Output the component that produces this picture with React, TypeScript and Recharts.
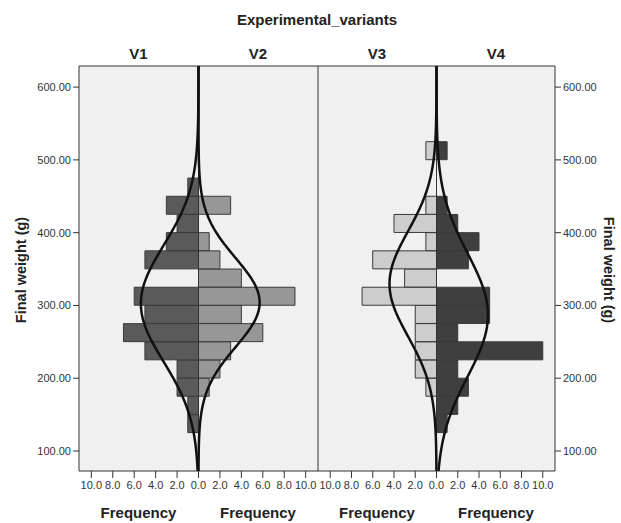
import React from 'react';
import { ComposedChart, Bar, Line, XAxis, YAxis, ReferenceArea, ReferenceLine } from 'recharts';

// Bin midpoints (bin width 25 g), from 125-150 up to 500-525
const binMids = [137.5, 162.5, 187.5, 212.5, 237.5, 262.5, 287.5, 312.5, 337.5, 362.5, 387.5, 412.5, 437.5, 462.5, 487.5, 512.5];
const v1Counts = [1, 1, 2, 2, 5, 7, 5, 6, 0, 5, 3, 2, 3, 1, 0, 0];
const v2Counts = [0, 0, 1, 2, 3, 6, 4, 9, 4, 2, 1, 0, 3, 0, 0, 0];
const v3Counts = [0, 0, 1, 2, 2, 2, 2, 7, 3, 6, 1, 4, 1, 0, 0, 1];
const v4Counts = [1, 2, 3, 2, 10, 2, 5, 5, 0, 3, 4, 2, 1, 0, 0, 1];
const binWidth = 25;

// Normal-curve parameters per variant (mean, sd, n)
const v1Fit = { mean: 302.6, sd: 79.8, n: 43 };
const v2Fit = { mean: 304.0, sd: 61.2, n: 35 };
const v3Fit = { mean: 329.7, sd: 72.2, n: 32 };
const v4Fit = { mean: 286.9, sd: 84.5, n: 41 };

const yTicks = [100, 200, 300, 400, 500, 600];
const xTicks = [-10, -8, -6, -4, -2, 0, 2, 4, 6, 8, 10];
const yDomain: [number, number] = [72.5, 629];
const xDomain: [number, number] = [-11.15, 11.15];
const variantLabels = ['V1', 'V2', 'V3', 'V4'];

const FONT = '"Liberation Sans", Arial, Helvetica, sans-serif';

const buildBars = (left: number[], right: number[]) =>
  binMids.map((w, i) => ({ w, left: -left[i], right: right[i] }));

const curveWeights: number[] = [];
for (let i = 0; i <= 140; i++) curveWeights.push(yDomain[0] + ((yDomain[1] - yDomain[0]) * i) / 140);

const buildCurve = (fit: { mean: number; sd: number; n: number }, sign: number) =>
  curveWeights.map((w) => {
    const z = (w - fit.mean) / fit.sd;
    const d = (fit.n * binWidth) / (fit.sd * Math.sqrt(2 * Math.PI)) * Math.exp(-0.5 * z * z);
    return { w, x: sign * d };
  });

const pane1Bars = buildBars(v1Counts, v2Counts);
const pane2Bars = buildBars(v3Counts, v4Counts);
const curve1 = buildCurve(v1Fit, -1);
const curve2 = buildCurve(v2Fit, 1);
const curve3 = buildCurve(v3Fit, -1);
const curve4 = buildCurve(v4Fit, 1);

const tickStyle = { fontSize: 11, fill: '#333', fontFamily: FONT };

type PaneProps = {
  data: { w: number; left: number; right: number }[];
  leftCurve: { w: number; x: number }[];
  rightCurve: { w: number; x: number }[];
  leftColor: string;
  rightColor: string;
  side: 'left' | 'right';
  width: number;
};

function Pane({ data, leftCurve, rightCurve, leftColor, rightColor, side, width }: PaneProps) {
  return (
    <ComposedChart
      width={width}
      height={523}
      data={data}
      layout="vertical"
      stackOffset="sign"
      barCategoryGap={0}
      barGap={0}
      margin={{ top: 66, right: 0, bottom: 0, left: 0 }}
    >
      <XAxis
        type="number"
        domain={xDomain}
        ticks={xTicks}
        allowDataOverflow
        height={52}
        axisLine={false}
        tickLine={{ stroke: '#333' }}
        tickSize={7}
        tickMargin={3}
        tick={tickStyle}
        tickFormatter={(v: number) => Math.abs(v).toFixed(1)}
        interval={0}
      />
      <YAxis
        yAxisId="bins"
        type="number"
        dataKey="w"
        orientation={side}
        reversed
        width={side === 'left' ? 79 : 66}
        domain={yDomain}
        ticks={yTicks}
        allowDataOverflow
        axisLine={false}
        tickLine={{ stroke: '#333' }}
        tick={tickStyle}
        tickFormatter={(v: number) => v.toFixed(2)}
        interval={0}
      />
      <YAxis yAxisId="curve" type="number" dataKey="w" hide reversed domain={yDomain} allowDataOverflow />
      <ReferenceArea
        yAxisId="bins"
        x1={xDomain[0]}
        x2={xDomain[1]}
        y1={yDomain[0]}
        y2={yDomain[1]}
        fill="#f0f0f0"
        fillOpacity={1}
        stroke="#333"
        strokeWidth={1}
        ifOverflow="visible"
      />
      <Bar yAxisId="bins" dataKey="left" stackId="s" fill={leftColor} stroke="#3a3a3a" strokeWidth={1} isAnimationActive={false} />
      <Bar yAxisId="bins" dataKey="right" stackId="s" fill={rightColor} stroke="#3a3a3a" strokeWidth={1} isAnimationActive={false} />
      <ReferenceLine yAxisId="bins" x={0} stroke="#333" strokeWidth={1} />
      <Line yAxisId="curve" data={leftCurve} dataKey="x" type="monotone" dot={false} stroke="#111" strokeWidth={2.5} isAnimationActive={false} />
      <Line yAxisId="curve" data={rightCurve} dataKey="x" type="monotone" dot={false} stroke="#111" strokeWidth={2.5} isAnimationActive={false} />
    </ComposedChart>
  );
}

export default function App() {
  const labelX = [138.5, 258, 377, 496];
  return (
    <div style={{ position: 'fixed', left: 0, top: 0, width: 621, height: 523, background: '#fff', overflow: 'hidden' }}>
      <div style={{ position: 'absolute', left: 0, top: 0 }}>
        <Pane data={pane1Bars} leftCurve={curve1} rightCurve={curve2} leftColor="#5a5a5a" rightColor="#979797" side="left" width={318} />
      </div>
      <div style={{ position: 'absolute', left: 318, top: 0 }}>
        <Pane data={pane2Bars} leftCurve={curve3} rightCurve={curve4} leftColor="#cdcdcd" rightColor="#3f3f3f" side="right" width={303} />
      </div>
      <svg width={621} height={523} style={{ position: 'absolute', left: 0, top: 0, pointerEvents: 'none' }}>
        <text x={317} y={25} textAnchor="middle" fontFamily={FONT} fontWeight="bold" fontSize={15} fill="#222">
          Experimental_variants
        </text>
        {variantLabels.map((l, i) => (
          <text key={l} x={labelX[i]} y={59} textAnchor="middle" fontFamily={FONT} fontWeight="bold" fontSize={15} fill="#222">
            {l}
          </text>
        ))}
        {variantLabels.map((l, i) => (
          <text key={'f' + l} x={labelX[i]} y={518} textAnchor="middle" fontFamily={FONT} fontWeight="bold" fontSize={15} fill="#222">
            Frequency
          </text>
        ))}
        <text x={0} y={0} transform="translate(26,270) rotate(-90)" textAnchor="middle" fontFamily={FONT} fontWeight="bold" fontSize={14.5} fill="#222">
          Final weight (g)
        </text>
        <text x={0} y={0} transform="translate(604,270) rotate(90)" textAnchor="middle" fontFamily={FONT} fontWeight="bold" fontSize={14.5} fill="#222">
          Final weight (g)
        </text>
      </svg>
    </div>
  );
}
